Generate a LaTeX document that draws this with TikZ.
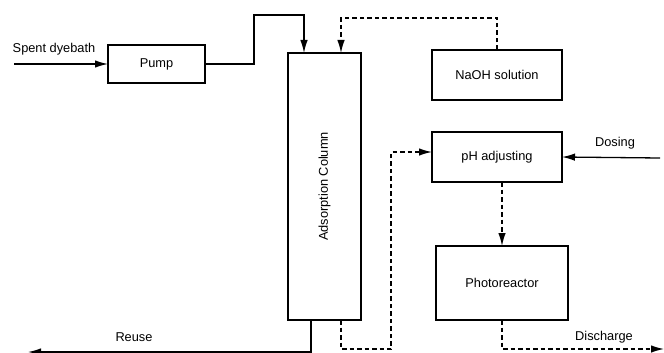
\documentclass[tikz,border=0pt]{standalone}
\usepackage{fontspec}
\setmainfont{Liberation Sans}
\usepackage{tikz}
\usetikzlibrary{arrows.meta,positioning,calc}
\tikzset{
  unitbox/.style={draw, line width=1.3pt, align=center, font=\fontsize{12.8}{15}\selectfont,
                  inner sep=0pt, outer sep=0pt},
  lbl/.style={font=\fontsize{12.8}{15}\selectfont, inner sep=1pt},
  flow/.style={-{Latex[length=13pt,width=7.5pt]}, line width=1.3pt},
  dflow/.style={flow, dash pattern=on 4.5pt off 3pt},
}

\begin{document}
\begin{tikzpicture}[x=1pt, y=-1pt]
  \useasboundingbox (0,0) rectangle (664,353);
  \node[unitbox, minimum width=97pt, minimum height=38pt] (pump) at (156.5,64) {Pump};
  \node[unitbox, minimum width=73pt, minimum height=267pt] (column) at (324.5,186.5) {};
  \node[lbl, rotate=90] (collabel) at (column.center) {Adsorption Column};
  \node[unitbox, minimum width=130pt, minimum height=50pt] (naoh) at (497,75) {NaOH solution};
  \node[unitbox, minimum width=130pt, minimum height=50pt] (ph) at (497,157) {pH adjusting};
  \node[unitbox, minimum width=132pt, minimum height=74pt] (photo) at (502,283) {Photoreactor};

  \node[lbl] (spentlbl) at (54,49) {Spent dyebath};
  \node[lbl] (dosinglbl) at (615,143) {Dosing};
  \node[lbl] (reuselbl) at (134,337) {Reuse};
  \node[lbl] (disclbl) at (604,337) {Discharge};

  \coordinate (feed) at (14,64);
  \coordinate (dose) at (660,158);
  \coordinate (reuse) at (28,352);
  \coordinate (disc) at (664,349);

  \draw[flow] (feed) -- (pump.west);
  \draw[flow] (pump.east) -| (254,15) -| ([xshift=16pt]column.north west);
  \draw[dflow] (naoh.north) |- (341,18) -| ([xshift=53pt]column.north west);
  \draw[flow] (dose) -- (ph.east);
  \draw[dflow] ([xshift=53pt]column.south west) -- ++(0,29) -| (391,152) -- ([yshift=5pt]ph.west);
  \draw[dflow] (ph.south -| photo.north) -- (photo.north);
  \draw[dflow] (photo.south) -- ++(0,29) -- (disc);
  \draw[flow] ([xshift=23pt]column.south west) -- ++(0,32) -- (reuse);
\end{tikzpicture}
\end{document}
